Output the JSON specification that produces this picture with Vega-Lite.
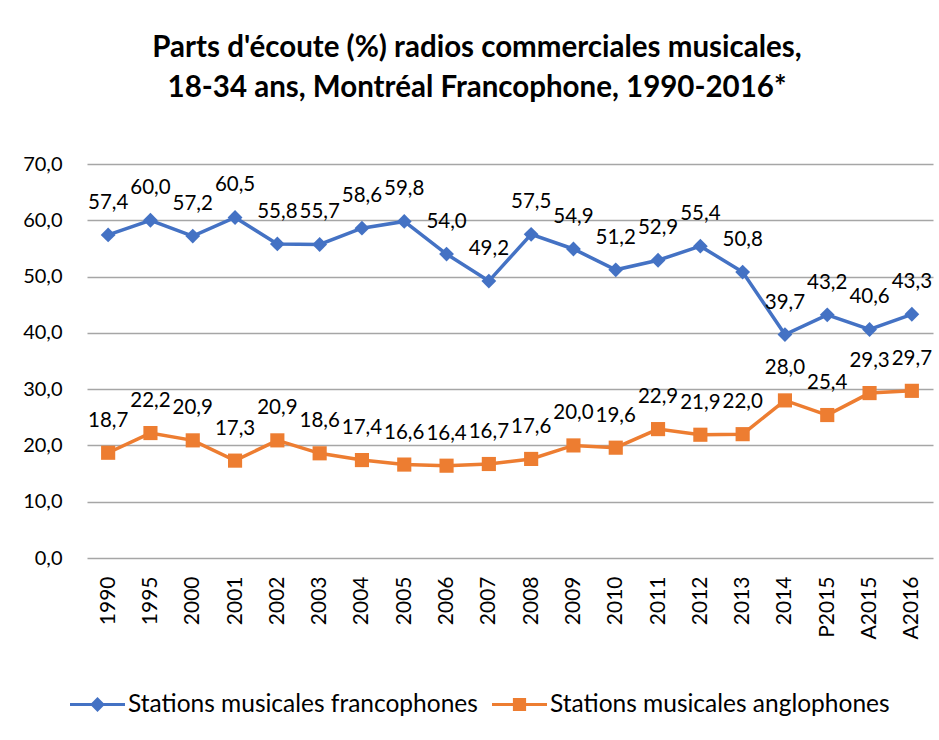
{
  "$schema": "https://vega.github.io/schema/vega-lite/v6.json",
  "width": 846,
  "height": 394,
  "autosize": {"type": "none"},
  "padding": {"left": 87, "top": 164, "right": 6, "bottom": 182},
  "config": {
    "locale": {"number": {"decimal": ",", "thousands": " ", "grouping": [3], "currency": ["", " $"]}},
    "font": "Lato",
    "view": {"stroke": null}
  },
  "title": {
    "text": ["Parts d'écoute (%) radios commerciales musicales,", "18-34 ans, Montréal Francophone, 1990-2016*"],
    "fontSize": 29.5,
    "fontWeight": "bold",
    "font": "Lato",
    "lineHeight": 40,
    "offset": 51,
    "anchor": "middle",
    "dx": -33,
    "color": "#000000"
  },
  "data": {
    "values": [
      {"year": "1990", "series": "Stations musicales francophones", "value": 57.4},
      {"year": "1995", "series": "Stations musicales francophones", "value": 60.0},
      {"year": "2000", "series": "Stations musicales francophones", "value": 57.2},
      {"year": "2001", "series": "Stations musicales francophones", "value": 60.5},
      {"year": "2002", "series": "Stations musicales francophones", "value": 55.8},
      {"year": "2003", "series": "Stations musicales francophones", "value": 55.7},
      {"year": "2004", "series": "Stations musicales francophones", "value": 58.6},
      {"year": "2005", "series": "Stations musicales francophones", "value": 59.8},
      {"year": "2006", "series": "Stations musicales francophones", "value": 54.0},
      {"year": "2007", "series": "Stations musicales francophones", "value": 49.2},
      {"year": "2008", "series": "Stations musicales francophones", "value": 57.5},
      {"year": "2009", "series": "Stations musicales francophones", "value": 54.9},
      {"year": "2010", "series": "Stations musicales francophones", "value": 51.2},
      {"year": "2011", "series": "Stations musicales francophones", "value": 52.9},
      {"year": "2012", "series": "Stations musicales francophones", "value": 55.4},
      {"year": "2013", "series": "Stations musicales francophones", "value": 50.8},
      {"year": "2014", "series": "Stations musicales francophones", "value": 39.7},
      {"year": "P2015", "series": "Stations musicales francophones", "value": 43.2},
      {"year": "A2015", "series": "Stations musicales francophones", "value": 40.6},
      {"year": "A2016", "series": "Stations musicales francophones", "value": 43.3},
      {"year": "1990", "series": "Stations musicales anglophones", "value": 18.7},
      {"year": "1995", "series": "Stations musicales anglophones", "value": 22.2},
      {"year": "2000", "series": "Stations musicales anglophones", "value": 20.9},
      {"year": "2001", "series": "Stations musicales anglophones", "value": 17.3},
      {"year": "2002", "series": "Stations musicales anglophones", "value": 20.9},
      {"year": "2003", "series": "Stations musicales anglophones", "value": 18.6},
      {"year": "2004", "series": "Stations musicales anglophones", "value": 17.4},
      {"year": "2005", "series": "Stations musicales anglophones", "value": 16.6},
      {"year": "2006", "series": "Stations musicales anglophones", "value": 16.4},
      {"year": "2007", "series": "Stations musicales anglophones", "value": 16.7},
      {"year": "2008", "series": "Stations musicales anglophones", "value": 17.6},
      {"year": "2009", "series": "Stations musicales anglophones", "value": 20.0},
      {"year": "2010", "series": "Stations musicales anglophones", "value": 19.6},
      {"year": "2011", "series": "Stations musicales anglophones", "value": 22.9},
      {"year": "2012", "series": "Stations musicales anglophones", "value": 21.9},
      {"year": "2013", "series": "Stations musicales anglophones", "value": 22.0},
      {"year": "2014", "series": "Stations musicales anglophones", "value": 28.0},
      {"year": "P2015", "series": "Stations musicales anglophones", "value": 25.4},
      {"year": "A2015", "series": "Stations musicales anglophones", "value": 29.3},
      {"year": "A2016", "series": "Stations musicales anglophones", "value": 29.7}
    ]
  },
  "encoding": {
    "x": {
      "field": "year",
      "type": "ordinal",
      "sort": null,
      "scale": {"padding": 0.5},
      "axis": {
        "title": null,
        "labelAngle": -90,
        "labelFontSize": 21,
        "labelColor": "#000000",
        "domain": false,
        "ticks": false,
        "grid": false,
        "labelPadding": 18
      }
    },
    "y": {
      "field": "value",
      "type": "quantitative",
      "scale": {"domain": [0, 70]},
      "axis": {
        "title": null,
        "values": [0, 10, 20, 30, 40, 50, 60, 70],
        "format": ".1f",
        "labelFontSize": 20,
        "labelColor": "#000000",
        "domain": false,
        "ticks": false,
        "gridColor": "#a6a6a6",
        "gridWidth": 1.5,
        "gridOpacity": 1,
        "labelPadding": 25
      }
    },
    "color": {
      "field": "series",
      "type": "nominal",
      "scale": {
        "domain": ["Stations musicales francophones", "Stations musicales anglophones"],
        "range": ["#4472C4", "#ED7D31"]
      },
      "legend": {
        "orient": "none",
        "legendX": -17,
        "legendY": 513,
        "direction": "horizontal",
        "title": null,
        "labelFontSize": 24.5,
        "labelColor": "#000000",
        "labelLimit": 600,
        "symbolSize": 3025,
        "symbolStrokeWidth": 0,
        "labelOffset": 3,
        "columnPadding": 14,
        "encode": {
          "symbols": {
            "update": {
              "shape": {"signal": "datum.value === 'Stations musicales francophones' ? 'M-1,-0.055L1,-0.055L1,0.055L-1,0.055Z M0,-0.27L0.27,0L0,0.27L-0.27,0Z' : 'M-1,-0.055L1,-0.055L1,0.055L-1,0.055Z M-0.24,-0.24L0.24,-0.24L0.24,0.24L-0.24,0.24Z'"},
              "fill": {"scale": "color", "field": "value"},
              "fillOpacity": {"value": 1},
              "opacity": {"value": 1},
              "strokeWidth": {"value": 0}
            }
          }
        }
      }
    }
  },
  "layer": [
    {"mark": {"type": "line", "strokeWidth": 3.5}},
    {
      "transform": [{"filter": "datum.series === 'Stations musicales francophones'"}],
      "mark": {"type": "point", "filled": true, "opacity": 1, "size": 220, "shape": "diamond"}
    },
    {
      "transform": [{"filter": "datum.series === 'Stations musicales anglophones'"}],
      "mark": {"type": "point", "filled": true, "opacity": 1, "size": 200, "shape": "square"}
    },
    {
      "mark": {"type": "text", "dy": -32, "fontSize": 20.5, "baseline": "middle"},
      "encoding": {
        "text": {"field": "value", "type": "quantitative", "format": ".1f"},
        "color": {"value": "#000000"}
      }
    }
  ]
}
